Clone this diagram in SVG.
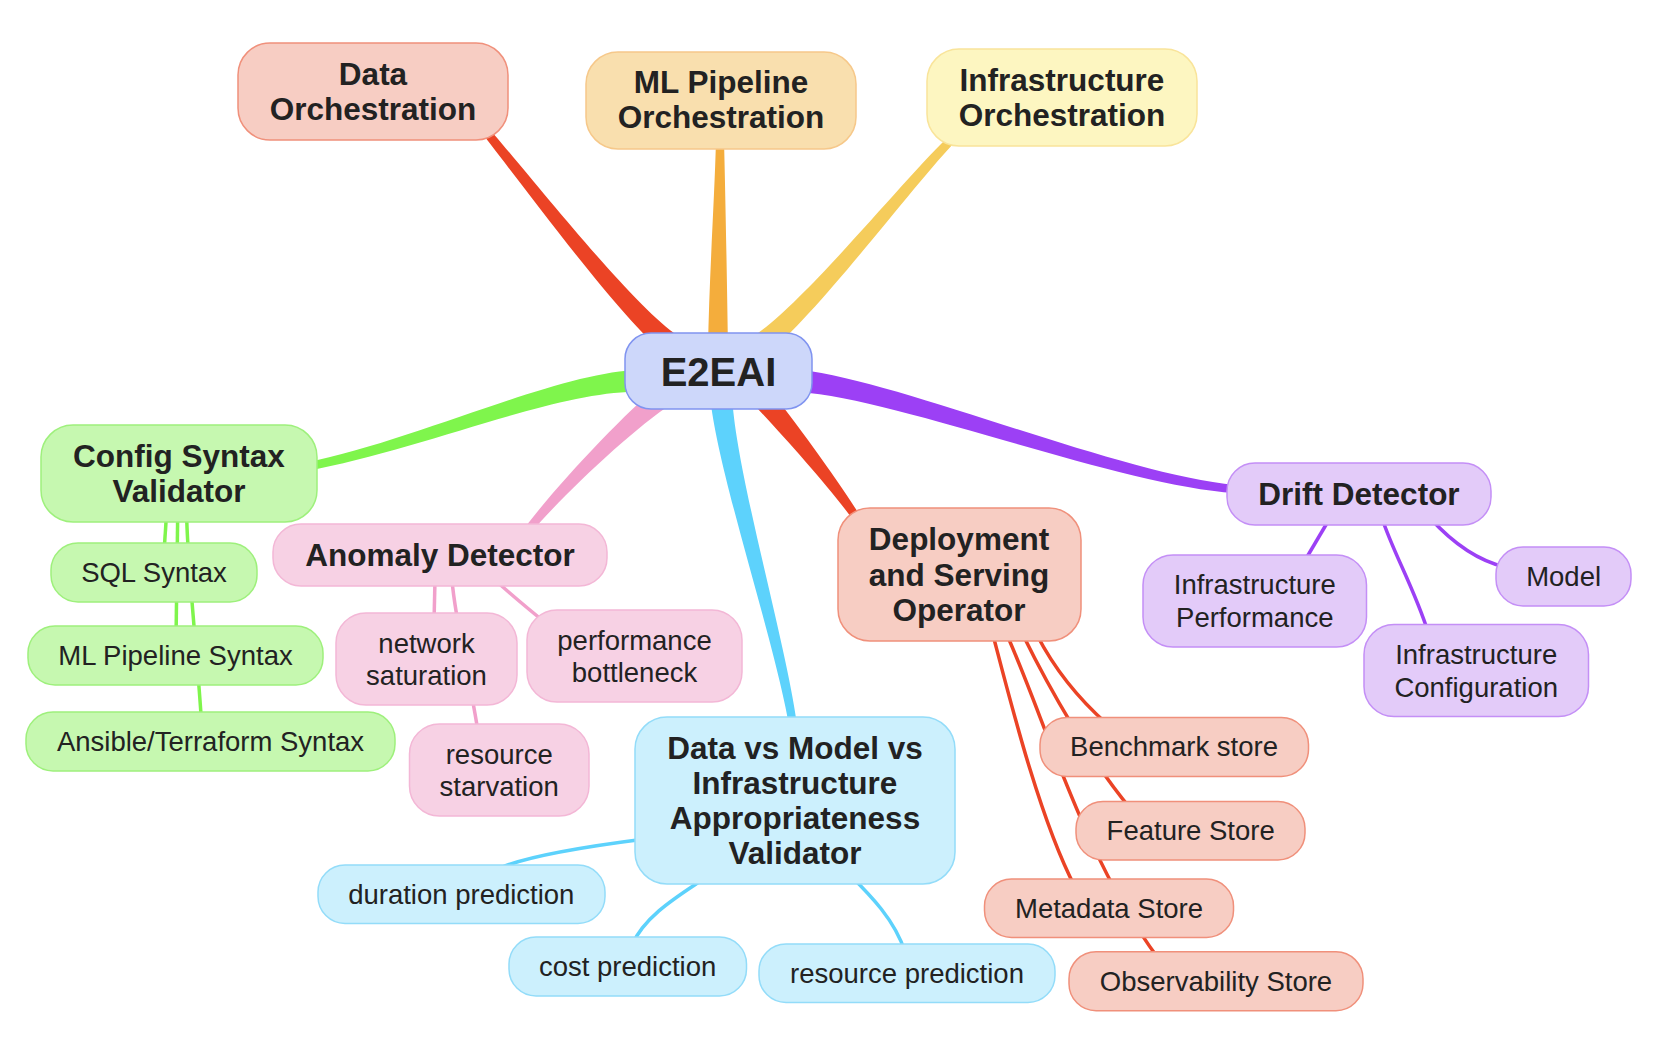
<svg xmlns="http://www.w3.org/2000/svg" width="1674" height="1038" viewBox="0 0 1674 1038">
<style>
.t{font-family:"Liberation Sans",Arial,Helvetica,sans-serif;fill:#222;text-anchor:middle}
.b{font-weight:bold;font-size:31.5px}
.l{font-size:27.5px}
.r{font-weight:bold;font-size:40px}
rect{stroke-width:1.5}
.red rect{fill:#f7cdc3;stroke:#f0907b}
.org rect{fill:#f9dfae;stroke:#f6c88a}
.yel rect{fill:#fdf6c1;stroke:#f9e49a}
.grn rect{fill:#c6f8b0;stroke:#9ef07c}
.pnk rect{fill:#f7d1e4;stroke:#f3b7d6}
.blu rect{fill:#ccf0fd;stroke:#93dcf9}
.pur rect{fill:#e3cbf9;stroke:#c48ff6}
.root rect{fill:#cdd7fa;stroke:#8094f0}
.thin{fill:none;stroke-width:3.5}
</style>
<g id="connectors">
<path fill="#eb4325" d="M678.3,336 C630.2,304.6 519.2,161.4 481,119.4 L475,124.6 C510.8,168.6 619.8,319.4 665.7,354 Z"/>
<path fill="#f4ad3c" d="M728,350 C727,280 725.5,200 724,140 L716,140 C714.5,200 709,280 708,350 Z"/>
<path fill="#f5cc5b" d="M766.3,354 C815.2,317.4 913.9,183.9 957.8,138.9 L952.2,133.1 C906.2,176.1 804.8,302.6 753.7,336 Z"/>
<path fill="#9c40f5" d="M799,392 C899.2,399 1119.6,485.5 1234.7,493 L1235.3,485 C1120.4,474.5 900.8,381 801,370 Z"/>
<path fill="#eb4325" d="M751.7,402.2 C783.2,435.9 830.4,488 854.7,522.2 L861.3,517.8 C839.6,482 796.8,424.1 768.4,387.8 Z"/>
<path fill="#5dd2fc" d="M710,395.7 C717,470.6 774.6,640.8 789.1,725.6 L797,724.4 C785.4,639.2 735,469.4 732,394.3 Z"/>
<path fill="#f1a0cb" d="M658.6,386 C624.8,412.7 555.7,486.6 524.9,527.5 L531.1,532.5 C564.3,493.4 635.2,427.3 671.4,404 Z"/>
<path fill="#7ff54c" d="M640.1,370 C560.1,371 419,439.6 304.3,463.1 L305.8,470.9 C421,450.4 559.9,389 639.9,392 Z"/>
<g stroke="#7ff54c" class="thin">
<path d="M166.5,515 L164,552"/>
<path d="M177.7,515 L176,640"/>
<path d="M186.7,515 C187,560 197,650 201.5,722"/>
</g>
<g stroke="#f1a0cb" class="thin">
<path d="M435,580 L434,622"/>
<path d="M452,580 C455,620 472,690 478,732"/>
<path d="M495,580 C515,598 532,612 552,628"/>
</g>
<g stroke="#5dd2fc" class="thin">
<path d="M645,839 C590,846 530,855 500,868"/>
<path d="M705,878 C680,895 645,915 632,945"/>
<path d="M850,875 C870,895 895,920 905,952"/>
</g>
<g stroke="#9c40f5" class="thin">
<path d="M1330,518 L1304,562"/>
<path d="M1382,518 C1392,550 1415,590 1428,632"/>
<path d="M1430,518 C1450,540 1475,560 1505,567"/>
</g>
<g stroke="#eb4325" class="thin">
<path d="M1037,635 C1055,670 1080,700 1107,724"/>
<path d="M1023,635 C1050,690 1090,760 1130,808"/>
<path d="M1007,635 C1045,720 1085,860 1158,958"/>
<path d="M993,635 C1010,700 1040,820 1075,887"/>
</g>
</g>
<g id="root" class="root"><rect x="625" y="333" width="187" height="76" rx="26"/><text class="t r" x="718.5" y="385.5">E2EAI</text></g>
<g id="data-orch" class="red"><rect x="238" y="43" width="270" height="97" rx="32"/><text class="t b" x="373" y="85">Data</text><text class="t b" x="373" y="120">Orchestration</text></g>
<g id="ml-orch" class="org"><rect x="586" y="52" width="270" height="97" rx="32"/><text class="t b" x="721" y="93">ML Pipeline</text><text class="t b" x="721" y="128">Orchestration</text></g>
<g id="infra-orch" class="yel"><rect x="927" y="49" width="270" height="97" rx="32"/><text class="t b" x="1062" y="91">Infrastructure</text><text class="t b" x="1062" y="126">Orchestration</text></g>
<g id="config" class="grn"><rect x="41" y="425" width="276" height="97" rx="32"/><text class="t b" x="179" y="467">Config Syntax</text><text class="t b" x="179" y="502">Validator</text></g>
<g id="anomaly" class="pnk"><rect x="273" y="524" width="334" height="62" rx="28"/><text class="t b" x="440" y="566">Anomaly Detector</text></g>
<g id="validator" class="blu"><rect x="635" y="717" width="320" height="167" rx="32"/><text class="t b" x="795" y="759">Data vs Model vs</text><text class="t b" x="795" y="794">Infrastructure</text><text class="t b" x="795" y="829">Appropriateness</text><text class="t b" x="795" y="864">Validator</text></g>
<g id="deploy" class="red"><rect x="838" y="508" width="243" height="133" rx="32"/><text class="t b" x="959" y="550">Deployment</text><text class="t b" x="959" y="586">and Serving</text><text class="t b" x="959" y="621">Operator</text></g>
<g id="drift" class="pur"><rect x="1227" y="463" width="264" height="62" rx="28"/><text class="t b" x="1359" y="505">Drift Detector</text></g>
<g id="sql" class="grn"><rect x="51" y="543" width="206" height="59" rx="27"/><text class="t l" x="154" y="582">SQL Syntax</text></g>
<g id="mlsyn" class="grn"><rect x="28" y="626" width="295" height="59" rx="27"/><text class="t l" x="175.5" y="665">ML Pipeline Syntax</text></g>
<g id="ansible" class="grn"><rect x="26" y="712" width="369" height="59" rx="27"/><text class="t l" x="210.5" y="751">Ansible/Terraform Syntax</text></g>
<g id="netsat" class="pnk"><rect x="336" y="613" width="181" height="92" rx="30"/><text class="t l" x="426.5" y="653">network</text><text class="t l" x="426.5" y="685">saturation</text></g>
<g id="perf" class="pnk"><rect x="527" y="610" width="215" height="92" rx="30"/><text class="t l" x="634.5" y="650">performance</text><text class="t l" x="634.5" y="682">bottleneck</text></g>
<g id="starv" class="pnk"><rect x="409.5" y="724" width="179.5" height="92" rx="30"/><text class="t l" x="499.2" y="764">resource</text><text class="t l" x="499.2" y="796">starvation</text></g>
<g id="duration" class="blu"><rect x="318" y="865" width="287" height="58.5" rx="27"/><text class="t l" x="461.3" y="903.5">duration prediction</text></g>
<g id="cost" class="blu"><rect x="509" y="937" width="237.5" height="59" rx="27"/><text class="t l" x="627.6" y="975.7">cost prediction</text></g>
<g id="resource" class="blu"><rect x="759" y="944" width="296" height="58.5" rx="27"/><text class="t l" x="907" y="982.7">resource prediction</text></g>
<g id="infraperf" class="pur"><rect x="1143" y="555" width="223.5" height="92" rx="30"/><text class="t l" x="1254.8" y="594">Infrastructure</text><text class="t l" x="1254.8" y="626.5">Performance</text></g>
<g id="model" class="pur"><rect x="1496" y="547" width="135" height="59" rx="27"/><text class="t l" x="1563.6" y="586">Model</text></g>
<g id="infraconf" class="pur"><rect x="1364" y="624.5" width="224.5" height="92" rx="30"/><text class="t l" x="1476.2" y="664">Infrastructure</text><text class="t l" x="1476.2" y="696.5">Configuration</text></g>
<g id="benchmark" class="red"><rect x="1040" y="717.5" width="268.5" height="59" rx="27"/><text class="t l" x="1174" y="756.3">Benchmark store</text></g>
<g id="feature" class="red"><rect x="1076" y="801.5" width="229" height="58.5" rx="27"/><text class="t l" x="1190.7" y="840.2">Feature Store</text></g>
<g id="metadata" class="red"><rect x="984.5" y="879" width="249" height="58.5" rx="27"/><text class="t l" x="1109" y="917.6">Metadata Store</text></g>
<g id="observability" class="red"><rect x="1069" y="951.7" width="294" height="59" rx="27"/><text class="t l" x="1216" y="990.7">Observability Store</text></g>
</svg>
